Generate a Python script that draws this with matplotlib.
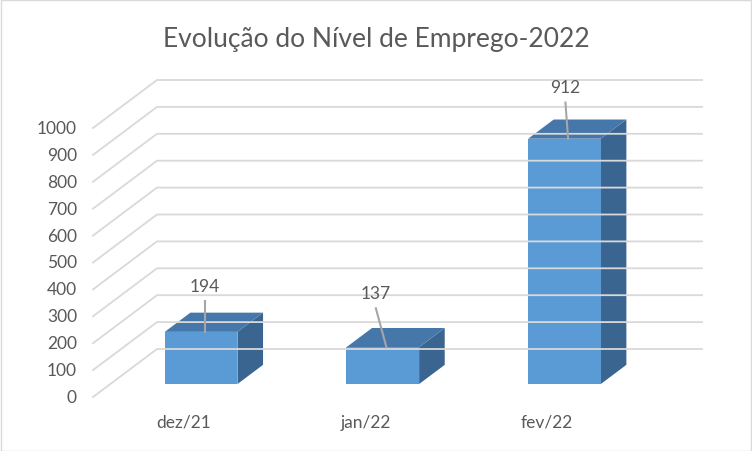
import matplotlib.pyplot as plt
import matplotlib.transforms as mtransforms
from matplotlib.patches import Polygon

# data
categories = ["dez/21", "jan/22", "fev/22"]
values = [194, 137, 912]
label_offsets = [(0, 33), (-8, 39), (-2, 37)]   # data label position above bar top (points)

y_ticks = list(range(0, 1001, 100))

FRONT = "#5b9bd5"
TOP = "#4677aa"
SIDE = "#3a6590"
GRID = "#d9d9d9"
TEXT = "#595959"

plt.rcParams['font.family'] = ['Lato', 'DejaVu Sans']

fig = plt.figure(figsize=(7.52, 4.52), dpi=100)
W, H = 752, 452
# front plane of the chart (depth 0)
ax = fig.add_axes([93 / W, (H - 398) / H, 545 / W, 269 / H])
ax.set_xlim(-0.5, 2.5)
ax.set_ylim(0, 1000)
ax.axis("off")

# depth offset of the full box, in inches
DX, DY = 0.64, 0.48


def depth(d):
    return ax.transData + mtransforms.ScaledTranslation(DX * d, DY * d, fig.dpi_scale_trans)


# gridlines: side wall + back wall
for v in y_ticks:
    p0 = ax.transData.transform((-0.5, v))
    p1 = depth(1).transform((-0.5, v))
    p2 = depth(1).transform((2.5, v))
    fig.lines.append(plt.Line2D([p0[0], p1[0], p2[0]], [p0[1], p1[1], p2[1]],
                                transform=None, color=GRID, lw=1.3))

# bars
bw = 0.40
d0, d1 = 0.27, 0.67
for i, (cat, v) in enumerate(zip(categories, values)):
    xl, xr = i - bw / 2, i + bw / 2
    tf = depth(d0)
    tb = depth(d1)
    fl = tf.transform([(xl, 0), (xr, 0), (xr, v), (xl, v)])
    bk = tb.transform([(xl, 0), (xr, 0), (xr, v), (xl, v)])
    side = [fl[1], bk[1], bk[2], fl[2]]
    top = [fl[3], fl[2], bk[2], bk[3]]
    fig.patches.append(Polygon(side, closed=True, transform=None, fc=SIDE, ec="none"))
    fig.patches.append(Polygon(top, closed=True, transform=None, fc=TOP, ec="none"))
    fig.patches.append(Polygon(fl, closed=True, transform=None, fc=FRONT, ec="none"))

    # data label with leader line
    anchor = tf.transform((i + 0.02, v))
    anchor = fig.transFigure.inverted().transform(anchor)
    ox, oy = label_offsets[i]
    fig.text(anchor[0] + ox / 72 / 7.52, anchor[1] + oy / 72 / 4.52, str(v),
             ha="center", va="center", fontsize=12.5, color=TEXT)
    fig.lines.append(plt.Line2D([anchor[0], anchor[0] + ox * 0.95 / 72 / 7.52],
                                [anchor[1], anchor[1] + (oy - 11) / 72 / 4.52],
                                transform=fig.transFigure, color="#a6a6a6", lw=1.5))

    # category label
    ax.text(i, 0, cat, transform=ax.transData + mtransforms.ScaledTranslation(0, -0.25, fig.dpi_scale_trans),
            ha="center", va="center", fontsize=12.5, color=TEXT, clip_on=False)

# y tick labels
for v in y_ticks:
    ax.text(-0.5, v, str(v), transform=ax.transData + mtransforms.ScaledTranslation(-0.16, 0, fig.dpi_scale_trans),
            ha="right", va="center", fontsize=12.5, color=TEXT, clip_on=False)

fig.text(0.5, (H - 40) / H, "Evolução do Nível de Emprego-2022", ha="center", va="center",
         fontsize=19, color=TEXT)

# chart border
fig.patches.append(plt.Rectangle((0.5 / W, 0.5 / H), 1 - 1.5 / W, 1 - 1.5 / H, transform=fig.transFigure,
                                 fill=False, ec="#d9d9d9", lw=1))

fig.savefig("out.png", dpi=100)
